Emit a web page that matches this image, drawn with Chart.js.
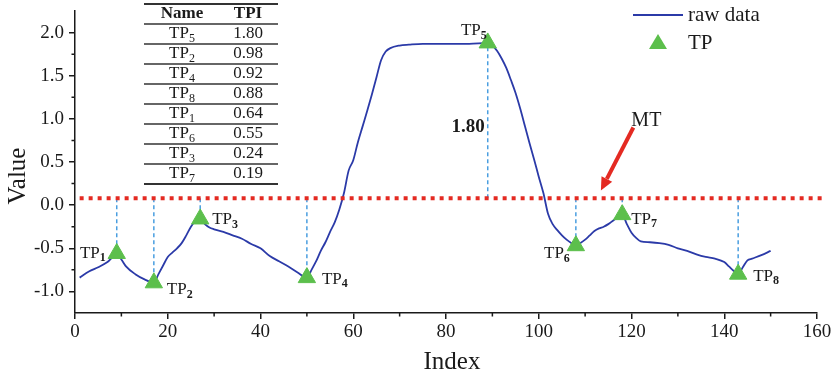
<!DOCTYPE html>
<html>
<head>
<meta charset="utf-8">
<script src="https://cdn.jsdelivr.net/npm/chart.js@4.4.1/dist/chart.umd.min.js"></script>
<style>
  html, body { margin: 0; padding: 0; background: #fff; }
  #wrap { width: 835px; height: 377px; position: relative; }
</style>
</head>
<body>
<div id="wrap"><canvas id="chart"></canvas></div>
<script>
// raw signal
const RAW_X = [1, 3, 5, 7, 9, 10, 11, 13, 15, 17, 18, 19, 20, 21, 22, 23, 24, 25, 26, 27,
  28, 29, 30, 32, 34, 36, 38, 40, 42, 44, 46, 48, 50, 51, 52, 53, 54, 55, 56, 57,
  58, 59, 60, 61, 62, 63, 64, 65, 66, 67, 68, 70, 72, 75, 80, 85, 89, 90, 91, 92,
  93, 94, 95, 96, 97, 98, 99, 100, 101, 102, 103, 104, 105, 106, 107, 108, 109, 110, 111, 112,
  113, 114, 115, 116, 117, 118, 119, 120, 121, 122, 124, 126, 128, 130, 132, 134, 136, 138, 140, 141,
  142, 143, 144, 145, 146, 148, 150];
const RAW_Y = [-0.84, -0.77, -0.72, -0.66, -0.57, -0.63, -0.71, -0.80, -0.86, -0.90, -0.80, -0.70, -0.60, -0.55, -0.50, -0.44, -0.35, -0.25, -0.18, -0.16,
  -0.22, -0.26, -0.28, -0.31, -0.35, -0.39, -0.45, -0.50, -0.59, -0.65, -0.71, -0.78, -0.84, -0.75, -0.65, -0.53, -0.43, -0.31, -0.20, -0.05,
  0.14, 0.40, 0.52, 0.73, 0.91, 1.09, 1.28, 1.48, 1.68, 1.78, 1.82, 1.85, 1.86, 1.87, 1.87, 1.87, 1.88, 1.85, 1.79, 1.70,
  1.59, 1.45, 1.30, 1.12, 0.92, 0.72, 0.53, 0.33, 0.14, -0.10, -0.22, -0.29, -0.35, -0.40, -0.44, -0.47, -0.44, -0.40, -0.35, -0.30,
  -0.27, -0.25, -0.22, -0.18, -0.14, -0.11, -0.22, -0.32, -0.38, -0.42, -0.43, -0.44, -0.46, -0.50, -0.53, -0.57, -0.60, -0.62, -0.66, -0.71,
  -0.76, -0.80, -0.72, -0.64, -0.62, -0.58, -0.53];

// turning points
const TP_X = [9, 17, 27, 50, 89, 108, 118, 143];
const TP_Y = [-0.56, -0.90, -0.16, -0.84, 1.88, -0.47, -0.11, -0.80];
const TP_SUB = ['1', '2', '3', '4', '5', '6', '7', '8'];

const MT = 0.08;
const MT_SPAN = [1, 161.5];
const TPI_NOTE = '1.80';   // written beside TP5's line
const TPI_NOTE_Y = 0.9;

// table
const TABLE_SUB = ['5', '2', '4', '8', '1', '6', '3', '7'];
const TABLE_TPI = ['1.80', '0.98', '0.92', '0.88', '0.64', '0.55', '0.24', '0.19'];

// axes
const X_TICKS = [0, 20, 40, 60, 80, 100, 120, 140, 160];
const X_MINOR = [10, 30, 50, 70, 90, 110, 130, 150];
const Y_TICKS = [-1, -0.5, 0, 0.5, 1, 1.5, 2];
const Y_MINOR = [-0.75, -0.25, 0.25, 0.75, 1.25, 1.75];

// MT arrow, data units
const ARROW_FROM = [120.4, 0.9];
const ARROW_TO = [113.4, 0.17];

const BLUE = '#2b3aa8';
const GREEN = '#5cbf4c';
const DASH = '#4a9ee0';
const RED = '#e42a22';
const INK = '#1a1a1a';
const SERIF = "'Liberation Serif', 'Times New Roman', serif";

// label offsets from each marker, px: [dx, dy, align]
const LABEL_OFF = [[-11, 0, 'right'], [13, 7, 'left'], [12, 1, 'left'], [15, 2, 'left'],
  [-1, -12, 'right'], [-6, 8, 'right'], [9, 5, 'left'], [15, 2, 'left']];

function tpText(ctx, x, y, sub, align, size, subSize, subBold) {
  ctx.font = `${size}px ${SERIF}`;
  const w1 = ctx.measureText('TP').width;
  ctx.font = `${subBold ? 'bold ' : ''}${subSize}px ${SERIF}`;
  const w2 = ctx.measureText(sub).width;
  let x0 = x;
  if (align === 'right') x0 = x - w1 - w2;
  if (align === 'center') x0 = x - (w1 + w2) / 2;
  ctx.textAlign = 'left';
  ctx.textBaseline = 'middle';
  ctx.font = `${size}px ${SERIF}`;
  ctx.fillText('TP', x0, y);
  ctx.font = `${subBold ? 'bold ' : ''}${subSize}px ${SERIF}`;
  ctx.fillText(sub, x0 + w1, y + size * 0.28);
}

const overlay = {
  id: 'overlay',
  afterDraw(chart) {
    const { ctx, chartArea: a, scales: { x, y } } = chart;
    ctx.save();
    ctx.fillStyle = INK;
    ctx.strokeStyle = INK;

    // minor ticks
    ctx.lineWidth = 1.5;
    ctx.beginPath();
    X_MINOR.forEach(v => {
      const px = x.getPixelForValue(v);
      ctx.moveTo(px, a.bottom); ctx.lineTo(px, a.bottom + 3.5);
    });
    Y_MINOR.forEach(v => {
      const py = y.getPixelForValue(v);
      ctx.moveTo(a.left, py); ctx.lineTo(a.left - 3.5, py);
    });
    ctx.stroke();

    // axis titles
    ctx.font = `25px ${SERIF}`;
    ctx.textAlign = 'center';
    ctx.textBaseline = 'alphabetic';
    ctx.fillText('Index', 452, 369);
    ctx.save();
    ctx.translate(25, 176);
    ctx.rotate(-Math.PI / 2);
    ctx.fillText('Value', 0, 0);
    ctx.restore();

    // TP labels
    TP_X.forEach((v, i) => {
      const [dx, dy, al] = LABEL_OFF[i];
      tpText(ctx, x.getPixelForValue(v) + dx, y.getPixelForValue(TP_Y[i]) + dy,
        TP_SUB[i], al, 17, 12, true);
    });

    // TPI note beside TP5
    ctx.font = `bold 19px ${SERIF}`;
    ctx.textAlign = 'right';
    ctx.textBaseline = 'middle';
    ctx.fillText(TPI_NOTE, x.getPixelForValue(TP_X[4]) - 3, y.getPixelForValue(TPI_NOTE_Y));

    // MT arrow
    const fx = x.getPixelForValue(ARROW_FROM[0]), fy = y.getPixelForValue(ARROW_FROM[1]);
    const tx = x.getPixelForValue(ARROW_TO[0]), ty = y.getPixelForValue(ARROW_TO[1]);
    const ang = Math.atan2(ty - fy, tx - fx);
    const hl = 13, hw = 6;
    const bx = tx - hl * Math.cos(ang), by = ty - hl * Math.sin(ang);
    ctx.strokeStyle = RED;
    ctx.fillStyle = RED;
    ctx.lineWidth = 4;
    ctx.beginPath();
    ctx.moveTo(fx, fy); ctx.lineTo(bx, by);
    ctx.stroke();
    ctx.beginPath();
    ctx.moveTo(tx, ty);
    ctx.lineTo(bx + hw * Math.sin(ang), by - hw * Math.cos(ang));
    ctx.lineTo(bx - hw * Math.sin(ang), by + hw * Math.cos(ang));
    ctx.closePath();
    ctx.fill();
    ctx.fillStyle = INK;
    ctx.font = `20px ${SERIF}`;
    ctx.textAlign = 'left';
    ctx.fillText('MT', fx - 2, fy - 7);

    // legend
    ctx.strokeStyle = BLUE;
    ctx.lineWidth = 1.8;
    ctx.beginPath();
    ctx.moveTo(633, 15); ctx.lineTo(683, 15);
    ctx.stroke();
    ctx.fillStyle = GREEN;
    ctx.beginPath();
    ctx.moveTo(658, 34); ctx.lineTo(667, 49); ctx.lineTo(649, 49);
    ctx.closePath();
    ctx.fill();
    ctx.fillStyle = INK;
    ctx.font = `21px ${SERIF}`;
    ctx.textBaseline = 'middle';
    ctx.fillText('raw data', 688, 15);
    ctx.fillText('TP', 688, 43);

    // table
    const tl = 144, tr = 278, rowH = 20, top = 4;
    ctx.strokeStyle = '#333';
    for (let r = 0; r <= TABLE_SUB.length + 1; r++) {
      const ry = top + r * rowH;
      ctx.lineWidth = (r === 0 || r === TABLE_SUB.length + 1) ? 2 : 1.3;
      ctx.beginPath();
      ctx.moveTo(tl, ry); ctx.lineTo(tr, ry);
      ctx.stroke();
    }
    ctx.fillStyle = INK;
    ctx.textAlign = 'center';
    ctx.font = `bold 17px ${SERIF}`;
    ctx.fillText('Name', 182, top + rowH / 2);
    ctx.fillText('TPI', 248, top + rowH / 2);
    TABLE_SUB.forEach((s, i) => {
      const cy = top + rowH * (i + 1) + rowH / 2;
      tpText(ctx, 182, cy, s, 'center', 17, 12, false);
      ctx.font = `17px ${SERIF}`;
      ctx.textAlign = 'center';
      ctx.fillText(TABLE_TPI[i], 248, cy);
    });

    ctx.restore();
  }
};

const dropLines = TP_X.map((v, i) => ({
  type: 'line',
  data: [{ x: v, y: MT }, { x: v, y: TP_Y[i] }],
  borderColor: DASH,
  borderWidth: 1.5,
  borderDash: [4, 3],
  pointRadius: 0,
  order: 3
}));

new Chart(document.getElementById('chart').getContext('2d'), {
  type: 'line',
  data: {
    datasets: [
      {
        label: 'TP',
        type: 'scatter',
        data: TP_X.map((v, i) => ({ x: v, y: TP_Y[i] })),
        pointStyle: 'triangle',
        pointRadius: 10,
        backgroundColor: GREEN,
        borderColor: GREEN,
        borderWidth: 1,
        order: 0
      },
      {
        label: 'raw data',
        data: RAW_X.map((v, i) => ({ x: v, y: RAW_Y[i] })),
        borderColor: BLUE,
        borderWidth: 1.8,
        pointRadius: 0,
        cubicInterpolationMode: 'monotone',
        order: 2
      },
      ...dropLines,
      {
        label: 'MT',
        data: MT_SPAN.map(v => ({ x: v, y: MT })),
        borderColor: RED,
        borderWidth: 3.8,
        borderDash: [4, 5],
        pointRadius: 0,
        clip: false,
        order: 1
      }
    ]
  },
  options: {
    responsive: true,
    maintainAspectRatio: false,
    animation: false,
    layout: { padding: { top: 3, right: 18, left: 0, bottom: 0 } },
    plugins: { legend: { display: false }, tooltip: { enabled: false } },
    scales: {
      x: {
        type: 'linear',
        min: 0, max: 160,
        afterBuildTicks: s => { s.ticks = X_TICKS.map(v => ({ value: v })); },
        afterFit: s => { s.height = 64; s.paddingLeft = 0; s.paddingRight = 0; },
        ticks: { color: INK, padding: 2, maxRotation: 0, font: { family: SERIF, size: 19 } },
        grid: { drawOnChartArea: false, tickLength: 6, color: INK, lineWidth: 1.5 },
        border: { color: INK, width: 1.5 }
      },
      y: {
        type: 'linear',
        min: -1.25, max: 2.25,
        afterBuildTicks: s => { s.ticks = Y_TICKS.map(v => ({ value: v })); },
        afterFit: s => { s.width = 75; s.paddingTop = 0; s.paddingBottom = 0; },
        ticks: { color: INK, padding: 5, font: { family: SERIF, size: 19 },
                 callback: v => v.toFixed(1) },
        grid: { drawOnChartArea: false, tickLength: 6, color: INK, lineWidth: 1.5 },
        border: { color: INK, width: 1.5 }
      }
    }
  },
  plugins: [overlay]
});
</script>
</body>
</html>
